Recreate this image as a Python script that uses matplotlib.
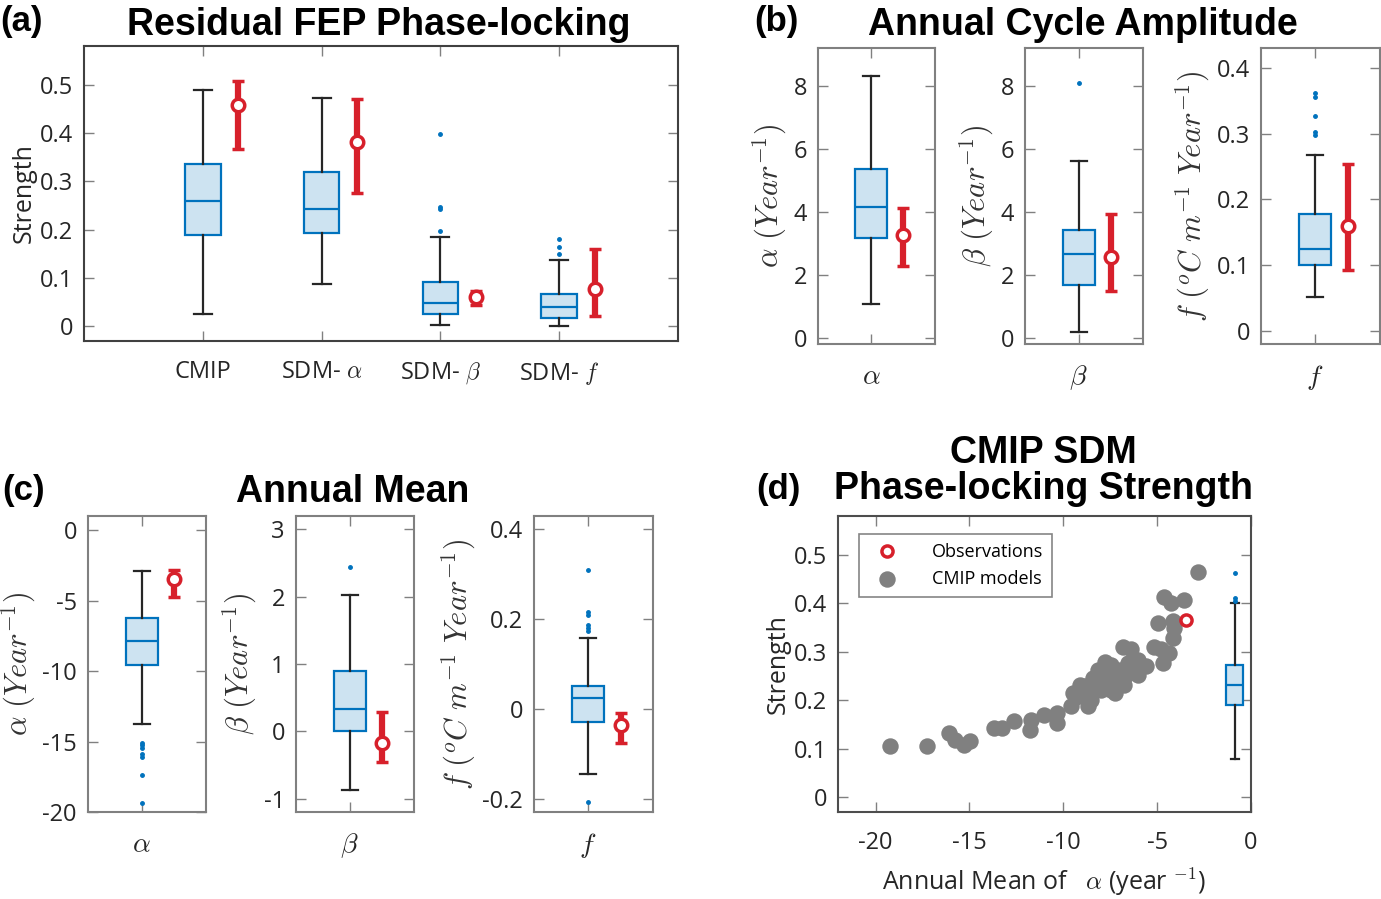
import matplotlib
matplotlib.use("Agg")
import matplotlib.pyplot as plt
import numpy as np

plt.rcParams['font.family'] = ['Open Sans', 'DejaVu Sans']
plt.rcParams['mathtext.fontset'] = 'cm'

BLUE = '#0072BD'
FACE = '#cde3f1'
RED = '#d7202b'
GRAY = '#808080'

# ---- panel (a): residual FEP phase-locking strength ----
a_labels = ['CMIP', r'SDM- $\alpha$', r'SDM- $\beta$', r'SDM- $f$']
a_med = [0.259, 0.243, 0.048, 0.040]
a_q1 = [0.189, 0.194, 0.026, 0.017]
a_q3 = [0.337, 0.320, 0.091, 0.068]
a_lo = [0.025, 0.088, 0.003, 0.002]
a_hi = [0.488, 0.472, 0.185, 0.137]
a_fliers = [[], [], [0.399, 0.247, 0.243, 0.198], [0.180, 0.164, 0.150]]
a_obs = [0.458, 0.381, 0.060, 0.078]
a_obs_lo = [0.367, 0.276, 0.045, 0.022]
a_obs_hi = [0.508, 0.470, 0.074, 0.161]

# ---- panel (b): annual cycle amplitude (alpha, beta, f) ----
b_med = [4.16, 2.65, 0.125]
b_q1 = [3.17, 1.66, 0.0996]
b_q3 = [5.37, 3.43, 0.177]
b_lo = [1.07, 0.19, 0.052]
b_hi = [8.30, 5.62, 0.268]
b_fliers = [[], [8.10], [0.362, 0.355, 0.327, 0.302, 0.297]]
b_obs = [3.25, 2.57, 0.160]
b_obs_lo = [2.29, 1.49, 0.093]
b_obs_hi = [4.12, 3.94, 0.254]

# ---- panel (c): annual mean (alpha, beta, f) ----
c_med = [-7.84, 0.33, 0.025]
c_q1 = [-9.55, 0.01, -0.029]
c_q3 = [-6.26, 0.89, 0.052]
c_lo = [-13.74, -0.87, -0.145]
c_hi = [-2.87, 2.02, 0.158]
c_fliers = [[-15.07, -15.26, -15.45, -15.85, -16.09, -17.35, -19.36],
            [2.44],
            [0.309, 0.215, 0.209, 0.187, 0.180, 0.174, -0.207]]
c_obs = [-3.48, -0.18, -0.036]
c_obs_lo = [-4.72, -0.45, -0.077]
c_obs_hi = [-2.80, 0.29, -0.010]

sub_ticks = [r'$\alpha$', r'$\beta$', r'$f$']
b_ylabels = [r'$\alpha\ (Year^{-1})$', r'$\beta\ (Year^{-1})$',
             r'$f\ (^oC\ m^{-1}\ Year^{-1})$']
b_ylims = [(-0.2, 9.2), (-0.2, 9.2), (-0.02, 0.43)]
b_yticks = [[0, 2, 4, 6, 8], [0, 2, 4, 6, 8], [0, 0.1, 0.2, 0.3, 0.4]]
c_ylims = [(-20, 1), (-1.2, 3.2), (-0.23, 0.43)]
c_yticks = [[-20, -15, -10, -5, 0], [-1, 0, 1, 2, 3], [-0.2, 0, 0.2, 0.4]]

# ---- panel (d): CMIP models, annual mean alpha vs strength ----
d_alpha = [-19.25, -17.25, -16.07, -15.75, -15.31, -14.96, -13.67, -13.28,
           -12.61, -11.78, -11.72, -11.02, -10.36, -10.36, -9.57, -9.48,
           -9.13, -8.86, -8.68, -8.60, -8.42, -8.15, -7.98, -7.80, -7.80,
           -7.53, -7.45, -7.18, -7.00, -6.83, -6.74, -6.56, -6.39, -6.21,
           -6.03, -6.03, -5.59, -5.15, -4.80, -4.71, -4.94, -4.62, -4.35,
           -4.27, -4.18, -4.18, -4.09, -3.59, -2.80, -9.30, -8.86, -8.50,
           -8.15, -7.63, -7.27, -7.45, -6.65]
d_strength = [0.105, 0.106, 0.133, 0.119, 0.108, 0.117, 0.144, 0.144,
              0.157, 0.139, 0.160, 0.170, 0.175, 0.153, 0.188, 0.215,
              0.232, 0.208, 0.188, 0.222, 0.246, 0.263, 0.222, 0.280, 0.236,
              0.250, 0.222, 0.239, 0.263, 0.311, 0.232, 0.277, 0.305, 0.267,
              0.253, 0.284, 0.270, 0.311, 0.305, 0.277, 0.360, 0.413, 0.298,
              0.401, 0.363, 0.329, 0.349, 0.406, 0.464, 0.208, 0.229, 0.201,
              0.239, 0.263, 0.215, 0.273, 0.253]
d_obs_alpha = -3.47
d_obs_strength = 0.365
d_box = dict(med=0.232, q1=0.190, q3=0.273, whislo=0.080, whishi=0.400,
             fliers=[0.463, 0.410, 0.405])
d_box_pos = -0.86

W, H = 1381, 899
fig = plt.figure(figsize=(W / 100, H / 100), dpi=100)


def px_axes(left, right, top, bottom):
    return fig.add_axes([left / W, 1 - bottom / H, (right - left) / W, (bottom - top) / H])


def style(ax, spine='0.3'):
    ax.tick_params(direction='in', top=True, right=True, length=7, width=1,
                   colors='0.5', labelcolor='0.15', labelsize=17, pad=8)
    ax.tick_params(axis='x', pad=14)
    for s in ax.spines.values():
        s.set_color(spine)
        s.set_linewidth(1.5)


def draw_box(ax, pos, st, width=0.3):
    ax.bxp([st], positions=[pos], widths=width, capwidths=width * 0.5,
           patch_artist=True, manage_ticks=False,
           boxprops=dict(facecolor=FACE, edgecolor=BLUE, linewidth=1.6),
           medianprops=dict(color=BLUE, linewidth=1.6),
           whiskerprops=dict(color='0.15', linewidth=1.6),
           capprops=dict(color='0.15', linewidth=1.6),
           flierprops=dict(marker='.', markerfacecolor=BLUE,
                           markeredgecolor=BLUE, markersize=5, linestyle='none'))


def draw_obs(ax, x, v, lo, hi):
    ax.errorbar([x], [v], yerr=[[v - lo], [hi - v]], fmt='o', color=RED,
                ecolor=RED, elinewidth=4.5, capsize=4.5, capthick=3,
                markersize=9, markerfacecolor='white', markeredgewidth=2.5,
                markeredgecolor=RED, zorder=5)


# panel (a)
ax = px_axes(84, 678, 46, 341)
for i in range(4):
    st = dict(med=a_med[i], q1=a_q1[i], q3=a_q3[i], whislo=a_lo[i],
              whishi=a_hi[i], fliers=a_fliers[i])
    draw_box(ax, i + 1, st)
    draw_obs(ax, i + 1.3, a_obs[i], a_obs_lo[i], a_obs_hi[i])
ax.set_xlim(0, 5)
ax.set_ylim(-0.03, 0.58)
ax.set_xticks([1, 2, 3, 4])
ax.set_xticklabels(a_labels)
ax.set_yticks([0, 0.1, 0.2, 0.3, 0.4, 0.5])
ax.set_yticklabels(['0', '0.1', '0.2', '0.3', '0.4', '0.5'])
ax.set_ylabel('Strength', fontsize=18, color='0.15', labelpad=2)
style(ax, '0.25')

# panel (b) and (c)
b_edges = [(818, 935), (1025, 1143), (1261, 1380)]
c_edges = [(88, 206), (296, 414), (534, 653)]
for row, edges, top, bottom, med, q1, q3, lo, hi, fl, ob, oblo, obhi, ylims, yticks in [
        ('b', b_edges, 48, 344, b_med, b_q1, b_q3, b_lo, b_hi, b_fliers,
         b_obs, b_obs_lo, b_obs_hi, b_ylims, b_yticks),
        ('c', c_edges, 516, 812, c_med, c_q1, c_q3, c_lo, c_hi, c_fliers,
         c_obs, c_obs_lo, c_obs_hi, c_ylims, c_yticks)]:
    for i in range(3):
        ax = px_axes(edges[i][0], edges[i][1], top, bottom)
        st = dict(med=med[i], q1=q1[i], q3=q3[i], whislo=lo[i],
                  whishi=hi[i], fliers=fl[i])
        draw_box(ax, 1, st)
        draw_obs(ax, 1.3, ob[i], oblo[i], obhi[i])
        ax.set_xlim(0.5, 1.6)
        ax.set_ylim(*ylims[i])
        ax.set_xticks([1])
        ax.set_xticklabels([sub_ticks[i]])
        ax.set_yticks(yticks[i])
        ax.set_yticklabels([('%g' % t) for t in yticks[i]])
        ax.set_ylabel(b_ylabels[i], fontsize=22, color='0.2', labelpad=3)
        style(ax, '0.5')
        ax.tick_params(axis='x', labelsize=20)

# panel (d)
ax = px_axes(838, 1251, 516, 812)
ax.scatter(d_alpha, d_strength, s=140, color=GRAY, linewidths=0,
           label='CMIP models', zorder=2)
ax.plot([d_obs_alpha], [d_obs_strength], 'o', markersize=8,
        markerfacecolor='white', markeredgecolor=RED, markeredgewidth=2.5,
        linestyle='none', label='Observations', zorder=3)
draw_box(ax, d_box_pos, d_box, width=0.9)
ax.set_xlim(-22, 0)
ax.set_ylim(-0.03, 0.58)
ax.set_xticks([-20, -15, -10, -5, 0])
ax.set_xticklabels(['-20', '-15', '-10', '-5', '0'])
ax.set_yticks([0, 0.1, 0.2, 0.3, 0.4, 0.5])
ax.set_yticklabels(['0', '0.1', '0.2', '0.3', '0.4', '0.5'])
ax.set_ylabel('Strength', fontsize=18, color='0.15', labelpad=2)
ax.set_xlabel(r'Annual Mean of   $\alpha$ (year $^{-1}$)', fontsize=18,
              color='0.15', labelpad=8)
style(ax, '0.3')
h, l = ax.get_legend_handles_labels()
leg = ax.legend([h[1], h[0]], [l[1], l[0]], loc='upper left', fontsize=13,
                frameon=True, fancybox=False, edgecolor='0.4',
                handletextpad=1.5, borderpad=0.5, labelspacing=0.5,
                bbox_to_anchor=(0.03, 0.97))
leg.get_frame().set_linewidth(1.2)

# titles and panel letters
tkw = dict(fontsize=27, fontweight='bold', family='Liberation Sans',
           ha='center', va='center')
fig.text(379 / W, 1 - 25 / H, 'Residual FEP Phase-locking', **tkw)
fig.text(1083 / W, 1 - 25 / H, 'Annual Cycle Amplitude', **tkw)
fig.text(353 / W, 1 - 492 / H, 'Annual Mean', **tkw)
fig.text(1043 / W, 1 - 453 / H, 'CMIP SDM', **tkw)
fig.text(1043 / W, 1 - 489 / H, 'Phase-locking Strength', **tkw)
lkw = dict(fontsize=25, fontweight='bold', family='Liberation Sans',
           ha='left', va='center')
fig.text(0 / W, 1 - 21 / H, '(a)', **lkw)
fig.text(754 / W, 1 - 21 / H, '(b)', **lkw)
fig.text(2 / W, 1 - 490 / H, '(c)', **lkw)
fig.text(756 / W, 1 - 489 / H, '(d)', **lkw)

fig.savefig('out.png', dpi=100)
